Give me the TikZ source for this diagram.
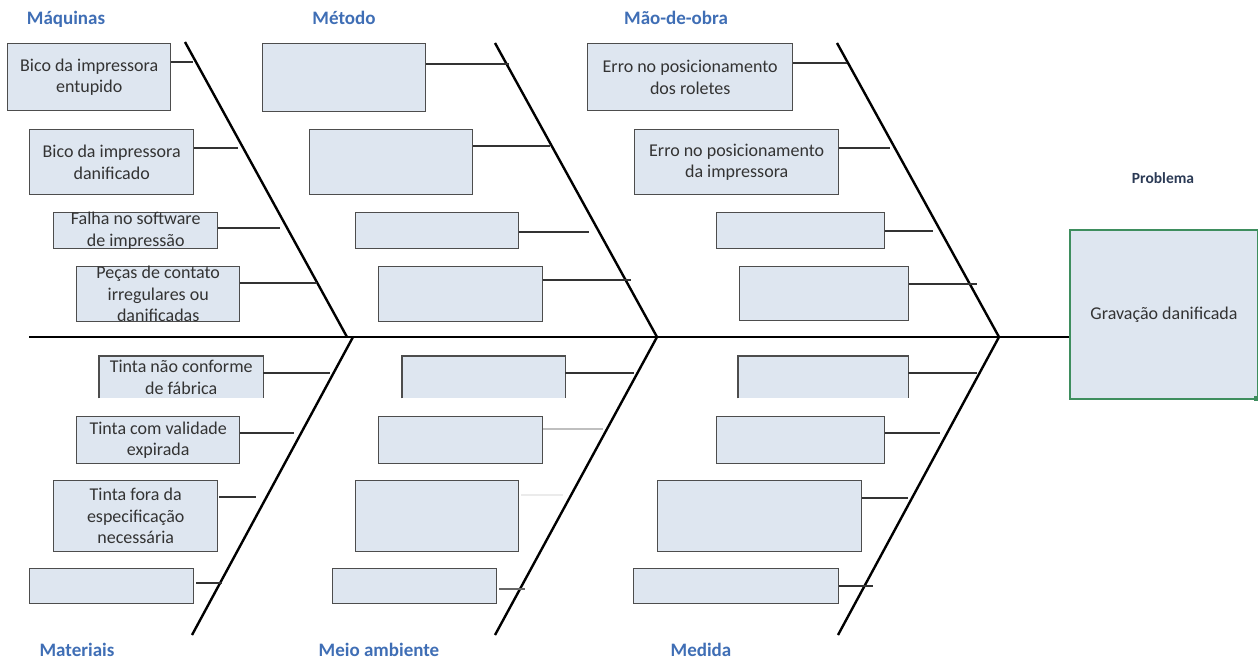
\documentclass[tikz,border=0pt]{standalone}
\usepackage{fontspec}
\setmainfont{Carlito}
\definecolor{boxfill}{HTML}{DEE6F0}
\definecolor{boxline}{HTML}{4D4D4D}
\definecolor{boxtext}{HTML}{333333}
\definecolor{catblue}{HTML}{3F6EB5}
\definecolor{probline}{HTML}{3E8E5E}
\definecolor{probtext}{HTML}{2B3A55}
\begin{document}
\begin{tikzpicture}[x=1pt,y=-1pt,
  cbox/.style={draw=boxline, fill=boxfill, line width=1.4pt, anchor=north west, inner sep=0pt},
  openbox/.style={fill=boxfill, anchor=north west, inner sep=0pt},
  side/.style={draw=boxline, line width=1.4pt},
  lbl/.style={align=center, text=boxtext, inner sep=0pt, font=\fontsize{18}{21.5}\selectfont},
  cat/.style={anchor=base, text=catblue, inner sep=0pt, font=\fontsize{19}{22}\selectfont\bfseries},
  bone/.style={line width=2.4pt, black},
  spine/.style={line width=2.8pt, black},
  conn/.style={line width=1.1pt, black!80},
]
\useasboundingbox (0,0) rectangle (1258,664);

% ---- problem box ----
\node[draw=probline, fill=boxfill, line width=2pt, anchor=north west, inner sep=0pt,
      minimum width=188pt, minimum height=169pt] (prob) at (1069,229) {};
\node[text=boxtext, font=\fontsize{18}{21}\selectfont] (probt) at (prob.center) {Gravação danificada};
\node[anchor=base, text=probtext, font=\fontsize{15.5}{18}\selectfont\bfseries] (probh) at (1163,183) {Problema};
\fill[probline] (1254,396) rectangle (1258,401);

% ---- spine and bones ----
\coordinate (tail) at (29,337);
\draw[spine] (tail) -- (prob.west |- tail);

\coordinate (aT) at (185,42);  \coordinate (aJ) at (347,337);
\coordinate (bT) at (495,43);  \coordinate (bJ) at (657,337);
\coordinate (cT) at (837,43);  \coordinate (cJ) at (999,337);
\coordinate (dJ) at (353,337); \coordinate (dB) at (192,635);
\coordinate (eJ) at (657,337); \coordinate (eB) at (495,635);
\coordinate (fJ) at (999,337); \coordinate (fB) at (838,635);
\draw[bone] (aT) -- (aJ);
\draw[bone] (bT) -- (bJ);
\draw[bone] (cT) -- (cJ);
\draw[bone] (dJ) -- (dB);
\draw[bone] (eJ) -- (eB);
\draw[bone] (fJ) -- (fB);

% ---- category titles ----
\node[cat] (tMaq) at (66,24)   {Máquinas};
\node[cat] (tMet) at (344,24)  {Método};
\node[cat] (tMao) at (676,24)  {Mão-de-obra};
\node[cat] (tMat) at (77,656)  {Materiais};
\node[cat] (tMei) at (379,656) {Meio ambiente};
\node[cat] (tMed) at (701,656) {Medida};

% ---- Máquinas ----
\node[cbox, minimum width=163pt, minimum height=67pt] (mq1) at (7,43) {};
\node[cbox, minimum width=164pt, minimum height=65pt] (mq2) at (29,129) {};
\node[cbox, minimum width=164pt, minimum height=36pt] (mq3) at (53,212) {};
\node[cbox, minimum width=163pt, minimum height=55pt] (mq4) at (76,266) {};
\node[lbl] (mq1t) at (mq1.center) {Bico da impressora\\entupido};
\node[lbl] (mq2t) at (mq2.center) {Bico da impressora\\danificado};
\node[lbl] (mq3t) at (mq3.center) {Falha no software\\de impressão};
\node[lbl] (mq4t) at (mq4.center) {Peças de contato\\irregulares ou\\danificadas};
\coordinate (emq1) at (193,62);  \draw[conn] (mq1.east |- emq1) -- (emq1);
\coordinate (emq2) at (238,148); \draw[conn] (mq2.east |- emq2) -- (emq2);
\coordinate (emq3) at (280,228); \draw[conn] (mq3.east |- emq3) -- (emq3);
\coordinate (emq4) at (317,283); \draw[conn] (mq4.east |- emq4) -- (emq4);

% ---- Método ----
\node[cbox, minimum width=163pt, minimum height=68pt] (mt1) at (262,43) {};
\node[cbox, minimum width=163pt, minimum height=65pt] (mt2) at (309,129) {};
\node[cbox, minimum width=163pt, minimum height=36pt] (mt3) at (355,212) {};
\node[cbox, minimum width=164pt, minimum height=55pt] (mt4) at (378,266) {};
\coordinate (emt1) at (509,64);  \draw[conn] (mt1.east |- emt1) -- (emt1);
\coordinate (emt2) at (550,146); \draw[conn] (mt2.east |- emt2) -- (emt2);
\coordinate (emt3) at (589,232); \draw[conn] (mt3.east |- emt3) -- (emt3);
\coordinate (emt4) at (631,280); \draw[conn] (mt4.east |- emt4) -- (emt4);

% ---- Mão-de-obra ----
\node[cbox, minimum width=205pt, minimum height=67pt] (mo1) at (587,43) {};
\node[cbox, minimum width=204pt, minimum height=65pt] (mo2) at (634,129) {};
\node[cbox, minimum width=168pt, minimum height=36pt] (mo3) at (716,212) {};
\node[cbox, minimum width=169pt, minimum height=54pt] (mo4) at (739,266) {};
\node[lbl] (mo1t) at (mo1.center) {Erro no posicionamento\\dos roletes};
\node[lbl] (mo2t) at (mo2.center) {Erro no posicionamento\\da impressora};
\coordinate (emo1) at (847,63);  \draw[conn] (mo1.east |- emo1) -- (emo1);
\coordinate (emo2) at (890,148); \draw[conn] (mo2.east |- emo2) -- (emo2);
\coordinate (emo3) at (933,231); \draw[conn] (mo3.east |- emo3) -- (emo3);
\coordinate (emo4) at (977,284); \draw[conn] (mo4.east |- emo4) -- (emo4);

% ---- Materiais ----
\node[openbox, minimum width=164pt, minimum height=42pt] (ma1) at (99,356) {};
\draw[side] (ma1.south west) -- (ma1.north west) -- (ma1.north east) -- (ma1.south east);
\node[cbox, minimum width=163pt, minimum height=47pt] (ma2) at (76,416) {};
\node[cbox, minimum width=164pt, minimum height=71pt] (ma3) at (53,480) {};
\node[cbox, minimum width=164pt, minimum height=35pt] (ma4) at (29,568) {};
\node[lbl] (ma1t) at (ma1.center) {Tinta não conforme\\de fábrica};
\node[lbl] (ma2t) at (ma2.center) {Tinta com validade\\expirada};
\node[lbl] (ma3t) at (ma3.center) {Tinta fora da\\especificação\\necessária};
\coordinate (ema1) at (330,373); \draw[conn] (ma1.east |- ema1) -- (ema1);
\coordinate (ema2) at (294,433); \draw[conn] (ma2.east |- ema2) -- (ema2);
\coordinate (ema3) at (256,497); \draw[conn] ([xshift=1pt]ma3.east |- ema3) -- (ema3);
\coordinate (ema4) at (222,583); \draw[conn] ([xshift=2pt]ma4.east |- ema4) -- (ema4);

% ---- Meio ambiente ----
\node[openbox, minimum width=163pt, minimum height=42pt] (me1) at (402,356) {};
\draw[side] (me1.south west) -- (me1.north west) -- (me1.north east) -- (me1.south east);
\node[cbox, minimum width=164pt, minimum height=47pt] (me2) at (378,416) {};
\node[cbox, minimum width=163pt, minimum height=71pt] (me3) at (355,480) {};
\node[cbox, minimum width=164pt, minimum height=35pt] (me4) at (332,568) {};
\coordinate (eme1) at (634,373); \draw[conn] (me1.east |- eme1) -- (eme1);
\coordinate (eme2) at (603,429); \draw[conn, black!25] (me2.east |- eme2) -- (eme2);
\coordinate (eme3) at (563,495); \draw[conn, black!8] ([xshift=2pt]me3.east |- eme3) -- (eme3);
\coordinate (eme4) at (525,589); \draw[conn, black!60] ([xshift=2pt]me4.east |- eme4) -- (eme4);

% ---- Medida ----
\node[openbox, minimum width=170pt, minimum height=42pt] (md1) at (738,356) {};
\draw[side] (md1.south west) -- (md1.north west) -- (md1.north east) -- (md1.south east);
\node[cbox, minimum width=168pt, minimum height=47pt] (md2) at (716,416) {};
\node[cbox, minimum width=204pt, minimum height=71pt] (md3) at (657,480) {};
\node[cbox, minimum width=205pt, minimum height=35pt] (md4) at (633,568) {};
\coordinate (emd1) at (977,373); \draw[conn] (md1.east |- emd1) -- (emd1);
\coordinate (emd2) at (940,433); \draw[conn] (md2.east |- emd2) -- (emd2);
\coordinate (emd3) at (908,498); \draw[conn] (md3.east |- emd3) -- (emd3);
\coordinate (emd4) at (873,586); \draw[conn] (md4.east |- emd4) -- (emd4);
\end{tikzpicture}
\end{document}
